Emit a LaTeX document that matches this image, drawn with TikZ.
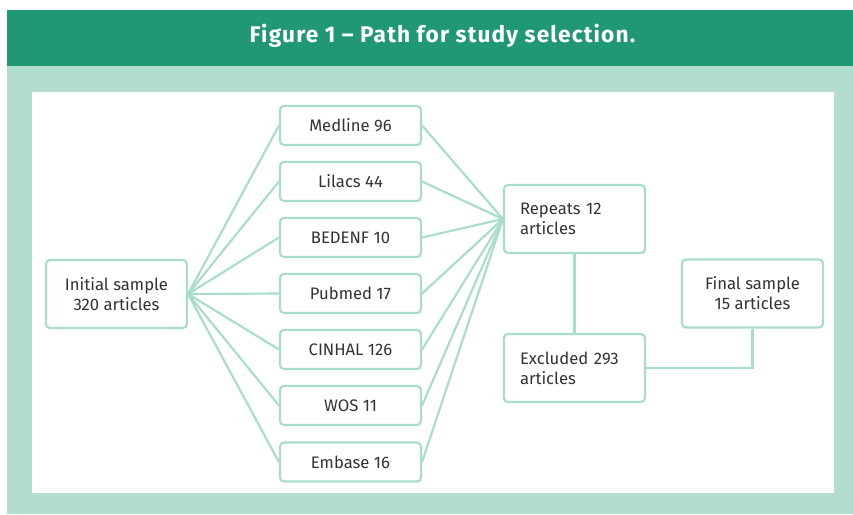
\documentclass[tikz,border=0pt]{standalone}
\usepackage{fontspec}
\setmainfont{Fira Sans}
\newfontfamily\titlefont[LetterSpace=5]{Fira Sans}
\definecolor{hdr}{HTML}{1F9873}
\definecolor{bgl}{HTML}{B3DDD0}
\definecolor{ln}{HTML}{A9DDCB}
\definecolor{txt}{HTML}{333333}
\begin{document}
\begin{tikzpicture}[x=0.75pt,y=-0.75pt,
  box/.style={draw=ln,line width=1.6pt,rounded corners=3pt,fill=white,
    text=txt,font=\fontsize{12.5}{15}\selectfont,inner sep=0pt,align=center},
  src/.style={box,minimum width=105.75pt,minimum height=29.25pt},
  big/.style={box,minimum width=105.75pt,minimum height=51pt},
  lbox/.style={box,minimum height=51pt,text width=81.75pt,inner xsep=12pt,align=left},
  conn/.style={draw=ln,line width=1.6pt}]
\useasboundingbox (0,0) rectangle (853,514);
\fill[white] (0,0) rectangle (853,514);
\fill[hdr] (7,10) rectangle (853,66);
\fill[bgl] (7,66) rectangle (853,514);
\fill[white] (32,92) rectangle (834,493);
\node[text=white,font=\titlefont\fontsize{17}{20}\bfseries\selectfont] (title) at (442.5,35.5) {Figure 1 – Path for study selection.};
\node[big] (init) at (116.5,294) {Initial sample\\320 articles};
\node[src] (s1) at (350.5,125.5) {Medline 96};
\node[src] (s2) at (350.5,181.5) {Lilacs 44};
\node[src] (s3) at (350.5,237.5) {BEDENF 10};
\node[src] (s4) at (350.5,293.5) {Pubmed 17};
\node[src] (s5) at (350.5,349.5) {CINHAL 126};
\node[src] (s6) at (350.5,405.5) {WOS 11};
\node[src] (s7) at (350.5,462) {Embase 16};
\node[lbox] (rep) at (574.5,219) {Repeats 12\\articles};
\node[lbox] (exc) at (574.5,368) {Excluded 293\\articles};
\node[big] (fin) at (752.5,293.5) {Final sample\\15 articles};
\foreach \s in {s1,s2,s3,s4,s5,s6,s7}{
  \draw[conn] (init.east) -- (\s.west);
  \draw[conn] (\s.east) -- (rep.west);
}
\draw[conn] (rep.south) -- (exc.north);
\draw[conn] (exc.east) -| (fin.south);
\end{tikzpicture}
\end{document}
